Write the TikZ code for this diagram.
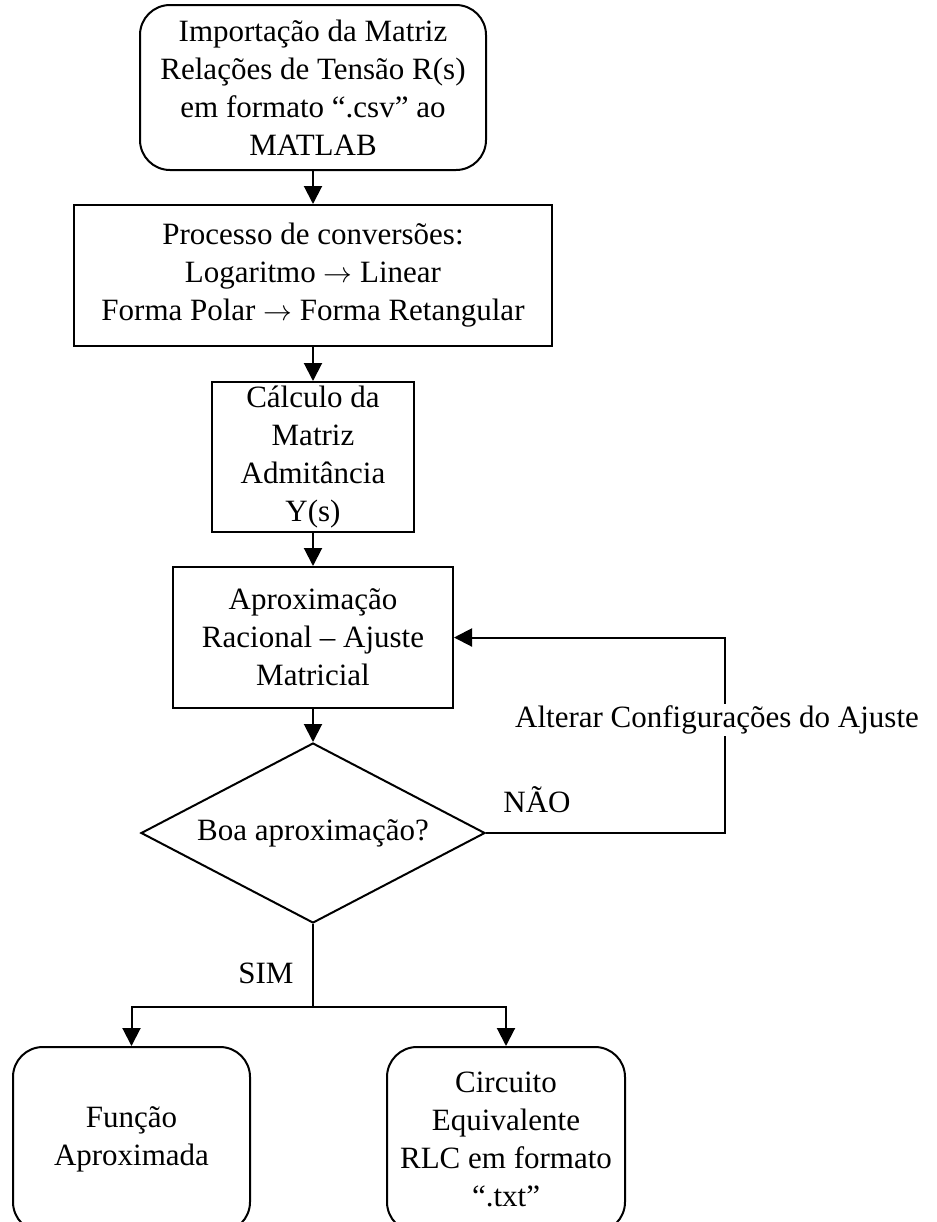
\documentclass[tikz,border=0pt]{standalone}
\usepackage{fontspec}
\setmainfont{Liberation Serif}
\usetikzlibrary{shapes.geometric, arrows.meta}

\begin{document}
\begin{tikzpicture}[x=0.5pt, y=-0.5pt,
    font=\fontsize{15.5}{19}\selectfont,
    line width=1pt,
    caixa/.style={draw, rectangle, align=center, inner sep=0pt},
    terminal/.style={caixa, rounded corners=15pt},
    decisao/.style={draw, diamond, aspect=1.91, inner sep=0pt, minimum width=172pt, minimum height=90pt},
    seta/.style={-{Triangle[length=9pt,width=9pt]}},
    rotulo/.style={inner sep=1pt}]

    \useasboundingbox (0,0) rectangle (937,1222);

    \node[terminal, minimum width=173pt, minimum height=82.5pt] (imp) at (313,87.5)
        {Importação da Matriz\\Relações de Tensão R(s)\\em formato “.csv” ao\\MATLAB};
    \node[caixa, minimum width=239pt, minimum height=70.5pt] (conv) at (313,275.5)
        {Processo de conversões:\\Logaritmo $\rightarrow$ Linear\\Forma Polar $\rightarrow$ Forma Retangular};
    \node[caixa, minimum width=101pt, minimum height=75pt] (calc) at (313,457)
        {Cálculo da\\Matriz\\Admitância\\Y(s)};
    \node[caixa, minimum width=140pt, minimum height=70.5pt] (aprox) at (313,637.5)
        {Aproximação\\Racional – Ajuste\\Matricial};
    \node[decisao] (dec) at (313,833) {Boa aproximação?};
    \node[terminal, minimum width=118.5pt, minimum height=92.5pt] (func) at (131.5,1139.5)
        {Função\\Aproximada};
    \node[terminal, minimum width=119pt, minimum height=92.5pt] (circ) at (506,1139.5)
        {Circuito\\Equivalente\\RLC em formato\\“.txt”};

    \coordinate (ret) at (725,637.5);
    \coordinate (div) at (313,1007);

    \draw[seta] (imp) -- (conv);
    \draw[seta] (conv) -- (calc);
    \draw[seta] (calc) -- (aprox);
    \draw[seta] (aprox) -- (dec);
    \draw[seta] (dec.east) -| (ret) -- (aprox.east);
    \draw (dec.south) -- (div);
    \draw[seta] (div) -| (func.north);
    \draw[seta] (div) -| (circ.north);

    \node[rotulo, fill=white] (alt) at (717,720) {Alterar Configurações do Ajuste};
    \node[rotulo] (nao) at (537,800) {NÃO};
    \node[rotulo] (sim) at (266,973) {SIM};
\end{tikzpicture}
\end{document}
